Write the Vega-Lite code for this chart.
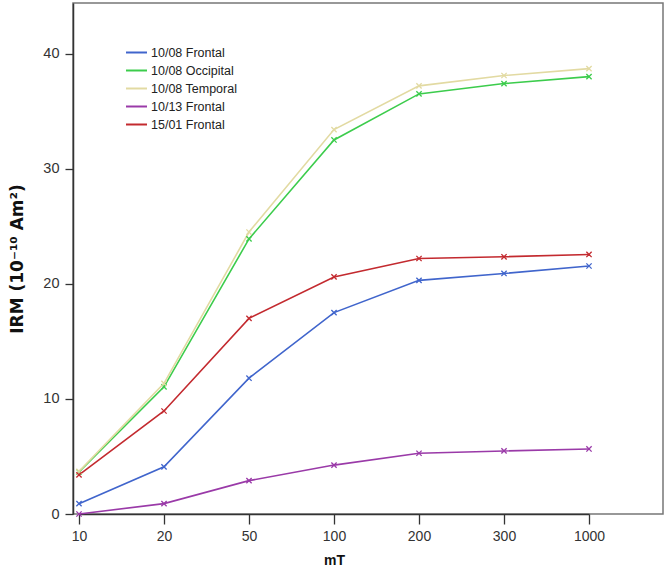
{
  "$schema": "https://vega.github.io/schema/vega-lite/v6.json",
  "width": 590,
  "height": 511,
  "autosize": {"type": "none"},
  "padding": {"left": 73, "top": 3, "right": 5, "bottom": 59},
  "background": "white",
  "config": {
    "font": "Liberation Sans",
    "view": {"stroke": "#777", "strokeWidth": 1.5}
  },
  "data": {
    "values": [
      {"series": "10/08 Frontal", "mT": "10", "irm": 0.9},
      {"series": "10/08 Frontal", "mT": "20", "irm": 4.1},
      {"series": "10/08 Frontal", "mT": "50", "irm": 11.8},
      {"series": "10/08 Frontal", "mT": "100", "irm": 17.5},
      {"series": "10/08 Frontal", "mT": "200", "irm": 20.3},
      {"series": "10/08 Frontal", "mT": "300", "irm": 20.9},
      {"series": "10/08 Frontal", "mT": "1000", "irm": 21.55},
      {"series": "10/08 Occipital", "mT": "10", "irm": 3.65},
      {"series": "10/08 Occipital", "mT": "20", "irm": 11.05},
      {"series": "10/08 Occipital", "mT": "50", "irm": 23.9},
      {"series": "10/08 Occipital", "mT": "100", "irm": 32.5},
      {"series": "10/08 Occipital", "mT": "200", "irm": 36.5},
      {"series": "10/08 Occipital", "mT": "300", "irm": 37.4},
      {"series": "10/08 Occipital", "mT": "1000", "irm": 38.0},
      {"series": "10/08 Temporal", "mT": "10", "irm": 3.7},
      {"series": "10/08 Temporal", "mT": "20", "irm": 11.35},
      {"series": "10/08 Temporal", "mT": "50", "irm": 24.5},
      {"series": "10/08 Temporal", "mT": "100", "irm": 33.4},
      {"series": "10/08 Temporal", "mT": "200", "irm": 37.2},
      {"series": "10/08 Temporal", "mT": "300", "irm": 38.1},
      {"series": "10/08 Temporal", "mT": "1000", "irm": 38.7},
      {"series": "10/13 Frontal", "mT": "10", "irm": 0.0},
      {"series": "10/13 Frontal", "mT": "20", "irm": 0.9},
      {"series": "10/13 Frontal", "mT": "50", "irm": 2.9},
      {"series": "10/13 Frontal", "mT": "100", "irm": 4.25},
      {"series": "10/13 Frontal", "mT": "200", "irm": 5.28},
      {"series": "10/13 Frontal", "mT": "300", "irm": 5.48},
      {"series": "10/13 Frontal", "mT": "1000", "irm": 5.65},
      {"series": "15/01 Frontal", "mT": "10", "irm": 3.4},
      {"series": "15/01 Frontal", "mT": "20", "irm": 8.95},
      {"series": "15/01 Frontal", "mT": "50", "irm": 17.0},
      {"series": "15/01 Frontal", "mT": "100", "irm": 20.6},
      {"series": "15/01 Frontal", "mT": "200", "irm": 22.2},
      {"series": "15/01 Frontal", "mT": "300", "irm": 22.35},
      {"series": "15/01 Frontal", "mT": "1000", "irm": 22.55}
    ]
  },
  "encoding": {
    "x": {
      "field": "mT",
      "type": "ordinal",
      "sort": ["10", "20", "50", "100", "200", "300", "1000"],
      "scale": {"type": "point", "range": [6, 516], "padding": 0},
      "axis": {
        "title": "mT",
        "titleFont": "Liberation Sans",
        "titleFontSize": 14,
        "titleFontWeight": "bold",
        "titleColor": "#111",
        "titleX": 261,
        "titlePadding": 10,
        "labelAngle": 0,
        "labelFontSize": 14,
        "labelColor": "#333",
        "labelPadding": 5,
        "tickColor": "#333",
        "tickSize": 10,
        "tickWidth": 1.3,
        "domainColor": "#333",
        "domainWidth": 1.5,
        "grid": false
      }
    },
    "y": {
      "field": "irm",
      "type": "quantitative",
      "scale": {"domain": [0, 44.4], "nice": false, "zero": true},
      "axis": {
        "title": "IRM (10⁻¹⁰ Am²)",
        "titleFont": "DejaVu Sans",
        "titleFontSize": 17,
        "titleFontWeight": "bold",
        "titleColor": "#111",
        "titlePadding": 16,
        "values": [0, 10, 20, 30, 40],
        "labelFontSize": 14.5,
        "labelColor": "#333",
        "labelPadding": 6,
        "tickColor": "#333",
        "tickSize": 8,
        "tickWidth": 1.3,
        "domainColor": "#333",
        "domainWidth": 1.5,
        "grid": false
      }
    },
    "color": {
      "field": "series",
      "type": "nominal",
      "scale": {
        "domain": ["10/08 Frontal", "10/08 Occipital", "10/08 Temporal", "10/13 Frontal", "15/01 Frontal"],
        "range": ["#4065cc", "#3ccc4c", "#e2daa2", "#9a3aa8", "#c32a2f"]
      }
    }
  },
  "layer": [
    {
      "mark": {"type": "line", "strokeWidth": 1.6},
      "encoding": {
        "color": {
          "field": "series",
          "type": "nominal",
          "legend": {
            "title": null,
            "orient": "none",
            "legendX": 52,
            "legendY": 38,
            "symbolType": "stroke",
            "symbolSize": 440,
            "symbolStrokeWidth": 2,
            "labelFontSize": 12.5,
            "labelColor": "#222",
            "labelFont": "Liberation Sans",
            "labelOffset": 3,
            "rowPadding": -6
          }
        }
      }
    },
    {
      "mark": {
        "type": "point",
        "shape": "M-1,-1L1,1M-1,1L1,-1",
        "filled": false,
        "size": 28,
        "strokeWidth": 1.3,
        "opacity": 1
      },
      "encoding": {
        "color": {"field": "series", "type": "nominal", "legend": null}
      }
    }
  ]
}
